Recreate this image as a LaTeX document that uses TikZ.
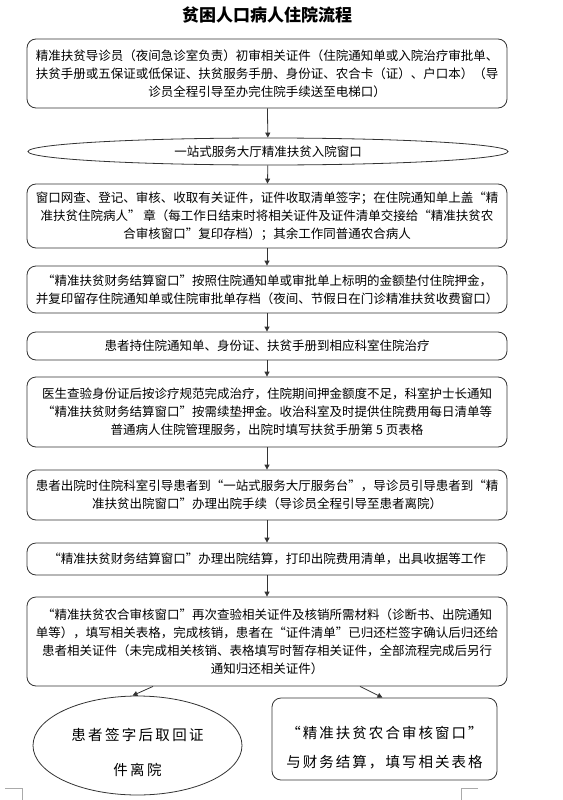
\documentclass[tikz,border=0pt]{standalone}
\usepackage{fontspec}
\setmainfont{Noto Sans CJK SC}
\usetikzlibrary{arrows.meta,shapes.geometric,calc}
\definecolor{linec}{HTML}{333333}
\definecolor{markc}{HTML}{AAAAAA}
\tikzset{
  boxn/.style={draw=linec, line width=0.8pt, rounded corners=9pt, minimum width=480pt, align=center, inner sep=0pt, font=\fontsize{12.5}{18}\selectfont, text=black},
  elln/.style={draw=linec, line width=0.8pt, ellipse, inner sep=0pt, align=center, text=black},
  arr/.style={draw=linec, line width=0.8pt, -{Triangle[length=5pt,width=5pt]}},
  markl/.style={draw=markc, line width=0.6pt}
}
\begin{document}
\begin{tikzpicture}[x=1pt,y=-1pt]
\useasboundingbox (0,0) rectangle (562,800);
\node[font=\fontsize{17}{20}\bfseries\selectfont] (title) at (267,15) {贫困人口病人住院流程};
\node[boxn, minimum height=69pt] (b1) at (267,73.5) {精准扶贫导诊员（夜间急诊室负责）初审相关证件（住院通知单或入院治疗审批单、\\扶贫手册或五保证或低保证、扶贫服务手册、身份证、农合卡（证）、户口本）（导\\诊员全程引导至办完住院手续送至电梯口）};
\node[elln, minimum width=480pt, minimum height=27pt, font=\fontsize{12.5}{18}\selectfont] (e2) at (268,151.5) {一站式服务大厅精准扶贫入院窗口};
\node[boxn, minimum height=64pt] (b3) at (267,216) {窗口网查、登记、审核、收取有关证件，证件收取清单签字；在住院通知单上盖“精\\准扶贫住院病人” 章（每工作日结束时将相关证件及证件清单交接给“精准扶贫农\\合审核窗口”复印存档）；其余工作同普通农合病人};
\node[boxn, minimum height=47pt] (b4) at (267,289.5) {“精准扶贫财务结算窗口”按照住院通知单或审批单上标明的金额垫付住院押金，\\并复印留存住院通知单或住院审批单存档（夜间、节假日在门诊精准扶贫收费窗口）};
\node[boxn, minimum height=28pt] (b5) at (267,346) {患者持住院通知单、身份证、扶贫手册到相应科室住院治疗};
\node[boxn, minimum height=70pt] (b6) at (267,412) {医生查验身份证后按诊疗规范完成治疗，住院期间押金额度不足，科室护士长通知\\“精准扶贫财务结算窗口”按需续垫押金。收治科室及时提供住院费用每日清单等\\普通病人住院管理服务，出院时填写扶贫手册第 5 页表格};
\node[boxn, minimum height=50pt] (b7) at (267,495) {患者出院时住院科室引导患者到“一站式服务大厅服务台”，导诊员引导患者到“精\\准扶贫出院窗口”办理出院手续（导诊员全程引导至患者离院）};
\node[boxn, minimum height=32pt] (b8) at (267,559) {“精准扶贫财务结算窗口”办理出院结算，打印出院费用清单，出具收据等工作};
\node[boxn, minimum height=89pt] (b9) at (267,641.5) {“精准扶贫农合审核窗口”再次查验相关证件及核销所需材料（诊断书、出院通知\\单等），填写相关表格，完成核销，患者在“证件清单”已归还栏签字确认后归还给\\患者相关证件（未完成相关核销、表格填写时暂存相关证件，全部流程完成后另行\\通知归还相关证件）};
\node[elln, minimum width=209pt, minimum height=97pt, font=\fontsize{14.5}{35}\selectfont\addfontfeature{LetterSpace=16}] (e10) at (137.5,745.5) {\raisebox{-5pt}[\height][\depth]{\begin{tabular}{@{}c@{}}患者签字后取回证\\件离院\end{tabular}}};
\node[boxn, minimum width=225pt, minimum height=82pt, font=\fontsize{14.5}{29}\selectfont\addfontfeature{LetterSpace=14}] (b11) at (384.5,739) {\raisebox{-8pt}[\height][\depth]{\begin{tabular}{@{}c@{}}“精准扶贫农合审核窗口”\\与财务结算，填写相关表格\end{tabular}}};
\draw[arr] (b1) -- (e2);
\draw[arr] (e2) -- (b3);
\draw[arr] (b3) -- (b4);
\draw[arr] (b4) -- (b5);
\draw[arr] (b5) -- (b6);
\draw[arr] (b6) -- (b7);
\draw[arr] (b7) -- (b8);
\draw[arr] (b8) -- (b9);
\draw[arr] ([xshift=-114pt]b9.south) -- ([xshift=-5pt]e10.north);
\draw[arr] ([xshift=93pt]b9.south) -- ([xshift=-2pt]b11.north);
\coordinate (m1) at (5,788);
\coordinate (m2) at (22,788);
\coordinate (m3) at (22,800);
\coordinate (m4) at (478,788);
\coordinate (m5) at (461,788);
\coordinate (m6) at (461,800);
\draw[markl] (m1) -- (m2) -- (m3);
\draw[markl] (m4) -- (m5) -- (m6);
\end{tikzpicture}
\end{document}
